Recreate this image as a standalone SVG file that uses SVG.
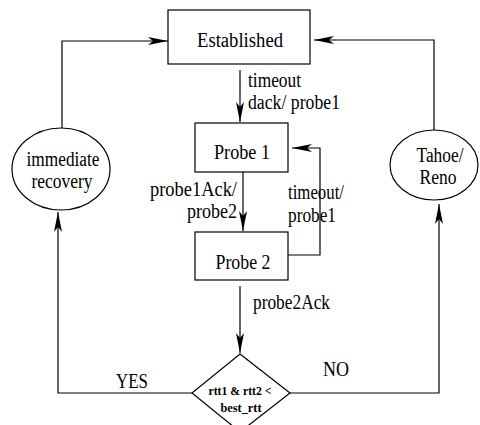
<svg xmlns="http://www.w3.org/2000/svg" width="480" height="425" viewBox="0 0 480 425">
<style>
.n{fill:#fff;stroke:#000;stroke-width:1.2}
.c{fill:none;stroke:#000;stroke-width:1.2}
.t{font-family:'Liberation Serif','DejaVu Serif',serif;font-size:20px;fill:#000}
.m{text-anchor:middle}
.d{font-size:13px;font-weight:bold}
</style>
<defs>
<marker id="ah" markerUnits="userSpaceOnUse" viewBox="-21 -5 22 10" refX="0" refY="0" markerWidth="22" markerHeight="10" orient="auto">
<path d="M0,0 L-20,-4 L-15,0 L-20,4 Z" fill="#000"/>
</marker>
</defs>
<rect width="480" height="425" fill="#fff"/>
<g id="connectors">
<path class="c" d="M62,128 V41 H168" marker-end="url(#ah)"/>
<path class="c" d="M434,130 V40 H314" marker-end="url(#ah)"/>
<path class="c" d="M240,70 V122" marker-end="url(#ah)"/>
<path class="c" d="M243,172 V231" marker-end="url(#ah)"/>
<path class="c" d="M288,255 H320 V148 H292" marker-end="url(#ah)"/>
<path class="c" d="M240,286 V353" marker-end="url(#ah)"/>
<path class="c" d="M192,393 H58 V212" marker-end="url(#ah)"/>
<path class="c" d="M290,393 H439 V204" marker-end="url(#ah)"/>
<g class="t" font-family="'Liberation Serif','DejaVu Serif',serif">
<text x="248" y="87" textLength="53" lengthAdjust="spacingAndGlyphs">timeout</text>
<text x="248" y="109" textLength="92" lengthAdjust="spacingAndGlyphs">dack/ probe1</text>
<text x="150" y="196" textLength="87" lengthAdjust="spacingAndGlyphs">probe1Ack/</text>
<text x="187" y="218" textLength="50" lengthAdjust="spacingAndGlyphs">probe2</text>
<text x="288" y="199" textLength="56" lengthAdjust="spacingAndGlyphs">timeout/</text>
<text x="288" y="222" textLength="48" lengthAdjust="spacingAndGlyphs">probe1</text>
<text x="253" y="309" textLength="77" lengthAdjust="spacingAndGlyphs">probe2Ack</text>
<text x="116" y="388" textLength="32" lengthAdjust="spacingAndGlyphs">YES</text>
<text x="323" y="376" textLength="26" lengthAdjust="spacingAndGlyphs">NO</text>
</g>
</g>
<g id="established" class="t" font-family="'Liberation Serif','DejaVu Serif',serif">
<rect class="n" x="168" y="10" width="142" height="54"/>
<text class="m" x="240" y="47" textLength="86" lengthAdjust="spacingAndGlyphs">Established</text>
</g>
<g id="probe1" class="t" font-family="'Liberation Serif','DejaVu Serif',serif">
<rect class="n" x="195" y="123" width="93" height="49"/>
<text class="m" x="242" y="159" textLength="56" lengthAdjust="spacingAndGlyphs">Probe 1</text>
</g>
<g id="probe2" class="t" font-family="'Liberation Serif','DejaVu Serif',serif">
<rect class="n" x="195" y="232" width="93" height="48"/>
<text class="m" x="243" y="269" textLength="55" lengthAdjust="spacingAndGlyphs">Probe 2</text>
</g>
<g id="immediate-recovery" class="t" font-family="'Liberation Serif','DejaVu Serif',serif">
<ellipse class="n" cx="61" cy="169" rx="49" ry="41"/>
<text class="m" x="63" y="166" textLength="73" lengthAdjust="spacingAndGlyphs">immediate</text>
<text class="m" x="62" y="188" textLength="61" lengthAdjust="spacingAndGlyphs">recovery</text>
</g>
<g id="tahoe-reno" class="t" font-family="'Liberation Serif','DejaVu Serif',serif">
<ellipse class="n" cx="434" cy="165" rx="44" ry="35"/>
<text class="m" x="440" y="162" textLength="47" lengthAdjust="spacingAndGlyphs">Tahoe/</text>
<text class="m" x="438" y="184" textLength="37" lengthAdjust="spacingAndGlyphs">Reno</text>
</g>
<g id="decision" class="t" font-family="'Liberation Serif','DejaVu Serif',serif">
<polygon class="n" points="240,354 290,393 240,432 192,393"/>
<text class="m d" x="240" y="395" textLength="63" lengthAdjust="spacingAndGlyphs">rtt1 &amp; rtt2 &lt;</text>
<text class="m d" x="241" y="412" textLength="41" lengthAdjust="spacingAndGlyphs">best_rtt</text>
</g>
</svg>
